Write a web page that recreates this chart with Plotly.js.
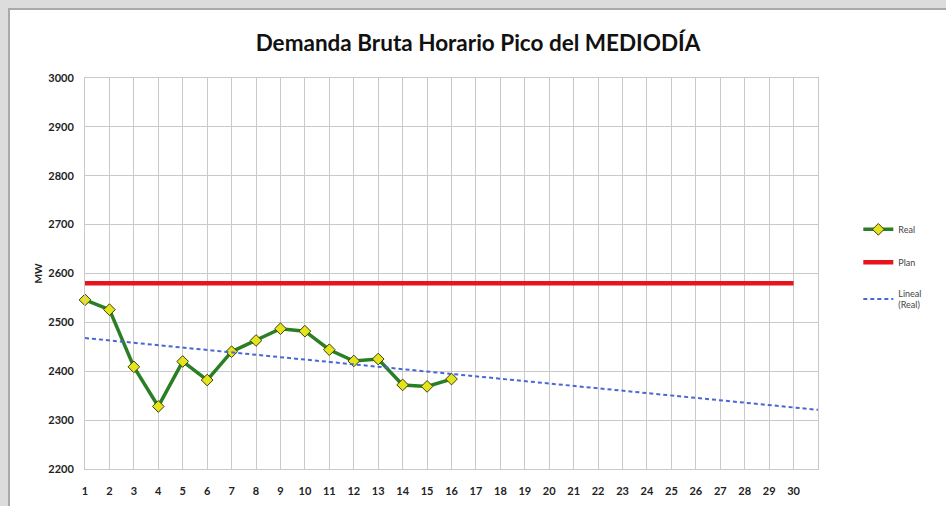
<!DOCTYPE html>
<html>
<head>
<meta charset="utf-8">
<script src="https://cdn.plot.ly/plotly-3.0.1.min.js"></script>
<style>
  html, body { margin: 0; padding: 0; background: #dcdcdc; width: 946px; height: 506px; overflow: hidden; }
  #frame { position: absolute; left: 8px; top: 8px; width: 938px; height: 498px; background: #a9a9a9; }
  #chart { position: absolute; left: 10px; top: 10px; width: 936px; height: 496px; background: #ffffff; }
</style>
</head>
<body>
<div id="frame"></div>
<div id="chart"></div>
<script>
// Days of the month (x categories)
var days = [1,2,3,4,5,6,7,8,9,10,11,12,13,14,15,16,17,18,19,20,21,22,23,24,25,26,27,28,29,30];
// Real demand (MW), days 1..16
var realDays = [1,2,3,4,5,6,7,8,9,10,11,12,13,14,15,16];
var realValues = [2546,2526,2409,2328,2420,2382,2440,2463,2487,2482,2444,2421,2425,2372,2369,2384];
// Plan (MW)
var planDays = [1,30];
var planValues = [2580,2580];
// Linear trend of Real at its ends
var trendDays = [1,31];
var trendValues = [2468,2321];
// Axis ticks
var yTicks = [2200,2300,2400,2500,2600,2700,2800,2900,3000];
var xTickVals = days.concat([31]);
var xTickText = days.map(String).concat([""]);

var traces = [
  {
    x: realDays, y: realValues, name: 'Real', type: 'scatter', mode: 'lines+markers',
    line: {color: '#2a7f25', width: 3.5},
    marker: {symbol: 'diamond', size: 9, color: '#e4e41c', line: {color: '#3d3d10', width: 1}},
    cliponaxis: false, legendgroup: 'a'
  },
  {
    x: planDays, y: planValues, name: 'Plan', type: 'scatter', mode: 'lines',
    line: {color: '#e8141c', width: 4.5}, legendgroup: 'b'
  },
  {
    x: trendDays, y: trendValues, name: 'Lineal<br>(Real)', type: 'scatter', mode: 'lines',
    line: {color: '#4a66d4', width: 2, dash: '4px,3px'}, legendgroup: 'c'
  }
];

var gridC = '#c9c9c9';
var layout = {
  width: 936, height: 496,
  paper_bgcolor: '#ffffff', plot_bgcolor: '#ffffff',
  margin: {l: 75, r: 128, t: 68, b: 37},
  title: {
    text: '<b>Demanda Bruta Horario Pico del MEDIODÍA</b>',
    font: {family: 'Lato, "Open Sans", sans-serif', size: 22.5, color: '#111111'},
    x: 0.5, xanchor: 'center', y: 0.934, yanchor: 'middle'
  },
  showlegend: true,
  legend: {
    x: 1.055, xanchor: 'left', y: 0.65, yanchor: 'top',
    traceorder: 'grouped', tracegroupgap: 14,
    font: {family: 'Lato, sans-serif', size: 9, color: '#444444'},
    bgcolor: 'rgba(0,0,0,0)', itemwidth: 30
  },
  xaxis: {
    range: [1, 31], tickmode: 'array', tickvals: xTickVals, ticktext: xTickText,
    showgrid: true, gridcolor: gridC, gridwidth: 1,
    showline: true, linecolor: gridC, mirror: true,
    zeroline: false, ticks: '', ticklabelstandoff: 12,
    tickfont: {family: 'Lato, sans-serif', size: 11, color: '#222222', weight: 'bold'}
  },
  yaxis: {
    range: [2200, 3000], tickmode: 'array', tickvals: yTicks,
    showgrid: true, gridcolor: gridC, gridwidth: 1,
    showline: true, linecolor: gridC, mirror: true,
    zeroline: false, ticks: '', ticklabelstandoff: 8,
    tickfont: {family: 'Lato, sans-serif', size: 11, color: '#222222', weight: 'bold'},
    title: {text: 'MW', standoff: 3, font: {family: 'Lato, sans-serif', size: 10, color: '#222222', weight: 'bold'}}
  }
};

Plotly.newPlot('chart', traces, layout, {displayModeBar: false, staticPlot: true});
</script>
</body>
</html>
